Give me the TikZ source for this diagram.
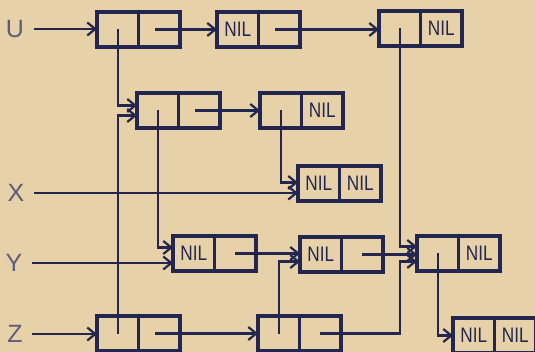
\documentclass[tikz,border=0pt]{standalone}
\usepackage{fontspec}
\setmainfont{Liberation Sans}
\newfontfamily\nilfont[FakeStretch=0.82]{Liberation Sans}
\usetikzlibrary{arrows.meta}
\definecolor{paper}{HTML}{E6D1A9}
\definecolor{ink}{HTML}{232750}
\tikzset{
  cell/.style={draw=ink, line width=3.6pt, minimum width=41.5pt, minimum height=35pt,
    inner sep=0pt, outer sep=0pt, anchor=north west,
    font=\nilfont\fontsize{21}{21}\selectfont, text=ink},
  ptr/.style={draw=ink, line width=2.2pt,
    -{Straight Barb[length=8pt,width=13pt,line width=2.2pt]}},
  lbl/.style={font=\fontsize{25}{25}\selectfont, text=ink!75}
}
% a list cell: two fields side by side, named <name>-l and <name>-r
\newcommand{\conscell}[4]{%
  \node[cell] (#1-l) at (#2) {#3};
  \node[cell] (#1-r) at (#1-l.north east) {#4};}
\begin{document}
\begin{tikzpicture}[x=1pt,y=-1pt]
\fill[paper] (0,0) rectangle (535,352);
\useasboundingbox (0,0) rectangle (535,352);
\clip (0,0) rectangle (535,352);

% variable names
\node[lbl] (U) at (15,29) {U};
\node[lbl] (X) at (16,193) {X};
\node[lbl] (Y) at (14,263) {Y};
\node[lbl] (Z) at (15,334) {Z};

% cells
\conscell{A}{97,12}{}{}
\conscell{B}{217,12}{NIL}{}
\conscell{C}{379,11}{}{NIL}
\conscell{D}{137,93}{}{}
\conscell{E}{260,93}{}{NIL}
\conscell{F}{298,166}{NIL}{NIL}
\conscell{G}{173,236}{NIL}{}
\conscell{H}{300,237}{NIL}{}
\conscell{I}{417,236}{}{NIL}
\conscell{Zc}{97,316}{}{}
\conscell{J}{258,316}{}{}
\conscell{K}{453,318}{NIL}{NIL}

% variables point to their lists
\draw[ptr] ([xshift=6pt]U.east) -- (U -| A-l.west);
\draw[ptr] ([xshift=6pt]X.east) -- (X -| F-l.west);
\draw[ptr] ([xshift=6pt]Y.east) -- (Y -| G-l.west);
\draw[ptr] ([xshift=6pt]Z.east) -- (Z -| Zc-l.west);

% list U
\draw[ptr] ([xshift=-4pt]A-r.center) -- (A-r.center -| B-l.west);
\draw[ptr] ([xshift=-4pt]B-r.center) -- (B-r.center -| C-l.west);
\draw[ptr] (A-l.center) |- ([yshift=5pt]D-l.west);
\draw[ptr] ([xshift=-4pt]D-r.center) -- (D-r.center -| E-l.west);
\draw[ptr] (D-l.center) |- ([yshift=6pt]G-l.west);
\draw[ptr] (E-l.center) |- ([yshift=1pt]F-l.west);
\draw[ptr] (C-l.center) |- ([yshift=7pt]I-l.west);

% list Y
\draw[ptr] (G-r.center) -- (G-r.center -| H-l.west);
\draw[ptr] (H-r.center) -- (H-r.center -| I-l.west);
\draw[ptr] (I-l.center) |- (K-l.west);

% list Z
\draw[ptr] (Zc-l.center) |- ([yshift=-5pt]D-l.west);
\draw[ptr] ([xshift=-4pt]Zc-r.center) -- (Zc-r.center -| J-l.west);
\draw[ptr] (J-l.center) |- ([yshift=-7pt]H-l.west);
\coordinate (jturn) at (C-l.center |- J-r.center);
\draw[ptr] (J-r.center) -- (jturn) |- ([yshift=-8pt]I-l.west);
\end{tikzpicture}
\end{document}
